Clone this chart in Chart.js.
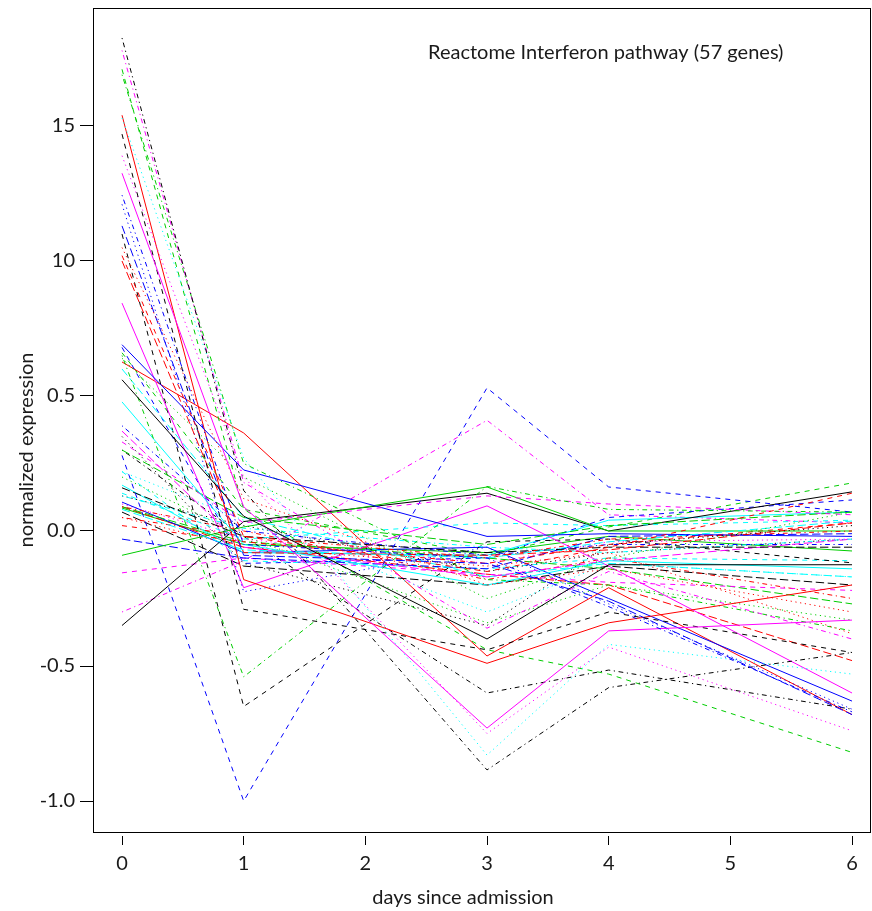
<!DOCTYPE html>
<html>
<head>
<meta charset="utf-8">
<title>Reactome Interferon pathway</title>
<script src="https://cdn.jsdelivr.net/npm/chart.js@4.4.1/dist/chart.umd.min.js"></script>
<style>
html, body { margin: 0; padding: 0; background: #fff; }
#wrap { width: 872px; height: 911px; }
</style>
</head>
<body>
<div id="wrap"><canvas id="geneChart" width="872" height="911"></canvas></div>
<script>

// ================================
// DATA
// ================================

// sampling days
const days = [0, 1, 3, 4, 6];

// one value per gene (57 genes) for each sampled day
const day0 = [
0.56, 1.02, 0.64, 1.244, 0.08, 1.325, 1.47, 1.05, 0.65, 1.13,
0.478, 0.33, 0.35, 0.05, 0.30, 0.69, 0.14, 1.39, 1.826, 1.00,
-0.09, 0.28, 1.53, 1.78, 0.16, 1.54, 1.71, 1.21, 0.13, 0.37,
-0.35, 0.02, 0.20, 0.39, 0.60, 0.844, 1.10, 0.05, 1.69, -0.03,
0.17, -0.155, 0.13, 0.09, 0.09, 0.107, 0.22, 0.10, 0.30, 0.09,
0.085, 0.68, 0.22, -0.30, 0.07, 0.626, 0.66
];

const day1 = [
0.055, -0.02, 0.20, -0.05, -0.07, 0.09, -0.29, 0.12, -0.54, -0.09,
-0.05, 0.03, -0.12, -0.02, 0.05, 0.226, -0.03, 0.20, 0.15, -0.08,
0.015, -1.00, 0.27, 0.18, -0.02, -0.18, 0.08, -0.225, 0.01, -0.06,
0.035, -0.04, -0.02, 0.00, 0.05, -0.21, -0.65, -0.06, 0.25, -0.10,
-0.08, -0.10, 0.02, 0.00, -0.04, -0.08, -0.11, -0.03, -0.02, -0.06,
-0.05, -0.12, 0.04, -0.11, -0.13, 0.363, 0.08
];

const day3 = [
-0.40, -0.15, -0.25, -0.10, -0.10, -0.73, -0.44, -0.20, 0.165, -0.12,
-0.20, 0.13, -0.35, -0.10, -0.05, -0.02, 0.03, -0.75, -0.885, -0.09,
0.163, 0.53, -0.83, -0.36, -0.08, -0.49, -0.44, -0.06, -0.06, -0.17,
0.14, -0.12, -0.34, -0.09, -0.17, 0.093, -0.04, -0.13, -0.18, -0.14,
-0.09, -0.16, -0.15, -0.18, -0.10, -0.06, -0.14, -0.12, -0.60, -0.16,
-0.08, -0.10, -0.30, 0.41, -0.20, -0.463, -0.09
];

const day4 = [
-0.125, -0.06, -0.10, -0.28, -0.04, -0.37, -0.30, -0.14, 0.08, -0.26,
-0.11, 0.10, -0.05, -0.03, 0.02, -0.01, 0.02, -0.43, -0.58, -0.07,
0.00, 0.163, -0.42, -0.15, -0.06, -0.34, -0.53, -0.27, -0.08, -0.11,
0.00, -0.05, -0.20, -0.05, -0.12, -0.13, -0.03, -0.08, -0.20, -0.02,
0.04, -0.19, -0.08, -0.10, -0.14, -0.25, -0.10, -0.04, -0.515, -0.20,
-0.02, 0.05, -0.12, 0.06, -0.13, -0.21, 0.015
];

const day6 = [
-0.125, 0.14, 0.07, -0.67, 0.037, -0.33, -0.45, -0.30, 0.07, -0.68,
-0.14, 0.06, 0.02, 0.00, 0.07, -0.02, 0.04, -0.74, -0.45, 0.03,
0.00, 0.07, -0.53, -0.40, -0.06, -0.20, -0.82, -0.66, -0.03, -0.03,
0.145, 0.03, -0.33, -0.05, -0.17, -0.60, -0.118, -0.38, -0.37, -0.01,
0.07, -0.22, -0.03, -0.25, -0.27, -0.63, -0.11, -0.03, -0.66, -0.48,
-0.074, 0.115, -0.17, 0.03, -0.20, -0.68, 0.178
];

const xTickValues = [0, 1, 2, 3, 4, 5, 6];
const yTickValues = [-1.0, -0.5, 0.0, 0.5, 1.0, 1.5];
const yTickLabels = ['-1.0', '-0.5', '0.0', '0.5', '10', '15'];

const chartTitle = 'Reactome Interferon pathway (57 genes)';
const xTitle = 'days since admission';
const yTitle = 'normalized expression';


// ================================
// LINE STYLES (colour and dash cycle)
// ================================

const lineColors = ['#000000', '#ff0000', '#00cd00', '#0000ff', '#00ffff', '#ff00ff'];

const lineDashes = [
[],
[5, 5],
[1.2, 3.6],
[1.2, 3.6, 4.8, 3.6],
[8.4, 3.6]
];

const FONT = 'Lato, "Open Sans", sans-serif';


// ================================
// DATASETS
// ================================

const byDay = [day0, day1, day3, day4, day6];

const datasets = day0.map(function(v, i){

return {
data: days.map(function(d, k){ return {x: d, y: byDay[k][i]}; }),
borderColor: lineColors[i % lineColors.length],
borderDash: lineDashes[i % lineDashes.length],
borderWidth: 1,
pointRadius: 0,
showLine: true,
fill: false,
tension: 0
};

});


// no extra room for the end labels, the plot box is fixed
function noLabelPadding(s){
s.paddingTop = 0;
s.paddingBottom = 0;
s.paddingLeft = 0;
s.paddingRight = 0;
}


// ================================
// FRAME AND TEXT
// ================================

const frameAndText = {

id: 'frameAndText',

afterDraw: function(chart){

const ctx = chart.ctx;
const a = chart.chartArea;

ctx.save();

ctx.strokeStyle = '#000';
ctx.lineWidth = 1;
ctx.setLineDash([]);
ctx.strokeRect(Math.round(a.left) + 0.5, Math.round(a.top) + 0.5,
Math.round(a.right - a.left) - 1, Math.round(a.bottom - a.top));

ctx.fillStyle = '#1a1a1a';
ctx.font = '20px ' + FONT;
ctx.textBaseline = 'middle';

ctx.textAlign = 'left';
ctx.fillText(chartTitle, 428, 53);

ctx.textAlign = 'center';
ctx.fillText(xTitle, 463, 898);

ctx.translate(27, 450);
ctx.rotate(-Math.PI / 2);
ctx.fillText(yTitle, 0, 0);

ctx.restore();

}

};


// ================================
// CHART
// ================================

new Chart(document.getElementById('geneChart'), {

type: 'scatter',

data: { datasets: datasets },

options: {

responsive: false,
animation: false,

layout: { padding: { left: 0, right: 1, top: 8, bottom: 0 } },

plugins: {
legend: { display: false },
tooltip: { enabled: false }
},

scales: {

x: {
type: 'linear',
min: -0.2384,
max: 6.156,
afterBuildTicks: function(s){ s.ticks = xTickValues.map(function(v){ return {value: v}; }); },
afterFit: function(s){ s.height = 79; noLabelPadding(s); },
border: { display: false },
grid: {
drawOnChartArea: false,
drawTicks: true,
tickLength: 14,
tickColor: '#000',
tickWidth: 1,
tickBorderDash: [0, 4, 9, 200]
},
ticks: {
font: { family: FONT, size: 20 },
color: '#1a1a1a',
padding: 6,
maxRotation: 0,
autoSkip: false,
callback: function(v){ return String(v); }
}
},

y: {
type: 'linear',
min: -1.1148,
max: 1.937,
afterBuildTicks: function(s){ s.ticks = yTickValues.map(function(v){ return {value: v}; }); },
afterFit: function(s){ s.width = 93; noLabelPadding(s); },
border: { display: false },
grid: {
drawOnChartArea: false,
drawTicks: true,
tickLength: 13,
tickColor: '#000',
tickWidth: 1
},
ticks: {
font: { family: FONT, size: 20 },
color: '#1a1a1a',
padding: 5,
autoSkip: false,
callback: function(v, idx){ return yTickLabels[idx]; }
}
}

}

},

plugins: [frameAndText]

});

</script>
</body>
</html>
